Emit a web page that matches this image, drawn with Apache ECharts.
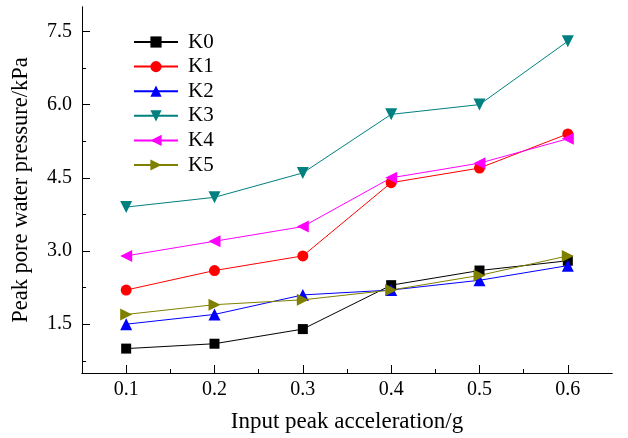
<!DOCTYPE html>
<html><head><meta charset="utf-8">
<script src="https://cdn.jsdelivr.net/npm/echarts@6/dist/echarts.min.js"></script>
<style>html,body{margin:0;padding:0;background:#fff}#c{width:628px;height:438px}</style>
</head><body><div id="c"></div>
<script>
const xValues = [0.1, 0.2, 0.3, 0.4, 0.5, 0.6];
const seriesNames = ['K0', 'K1', 'K2', 'K3', 'K4', 'K5'];
const K0 = [1.0, 1.1, 1.4, 2.3, 2.6, 2.8];
const K1 = [2.2, 2.6, 2.9, 4.4, 4.7, 5.4];
const K2 = [1.5, 1.7, 2.1, 2.2, 2.4, 2.7];
const K3 = [3.9, 4.1, 4.6, 5.8, 6.0, 7.3];
const K4 = [2.9, 3.2, 3.5, 4.5, 4.8, 5.3];
const K5 = [1.7, 1.9, 2.0, 2.2, 2.5, 2.9];
const yTickLabels = [1.5, 3.0, 4.5, 6.0, 7.5];
const yMinorTicks = [0.75, 2.25, 3.75, 5.25, 6.75];
const xTickLabels = [0.1, 0.2, 0.3, 0.4, 0.5, 0.6];
const xMinorTicks = [0.15, 0.25, 0.35, 0.45, 0.55];

const allData = [K0, K1, K2, K3, K4, K5];
const colors = ['#000000', '#ff0000', '#0000ff', '#008080', '#ff00ff', '#808000'];
const symbols = ['rect', 'circle', 'triangle', 'triangle', 'triangle', 'triangle'];
const rotates = [0, 0, 0, 180, 90, -90];
const sizes = [10, 11, 12, 12, 12, 12];
const FONT = '"Liberation Serif", "Times New Roman", serif';

const chart = echarts.init(document.getElementById('c'));
const axisLineStyle = {color: '#000', width: 1};
const xBase = {type: 'value', min: 0.05, max: 0.65, splitLine: {show: false},
  axisLine: {show: true, lineStyle: axisLineStyle}};
const yBase = {type: 'value', min: 0.5, max: 8.0, splitLine: {show: false},
  axisLine: {show: true, lineStyle: axisLineStyle}};
chart.setOption({
  animation: false,
  backgroundColor: '#fff',
  textStyle: {fontFamily: FONT},
  grid: {left: 82, right: 16, top: 7, bottom: 63},
  legend: {
    orient: 'vertical', left: 128, top: 26.5,
    itemWidth: 44, itemHeight: 14, itemGap: 3.6,
    textStyle: {fontFamily: FONT, fontSize: 21, lineHeight: 21, color: '#000', padding: [0, 0, 0, 5]},
    data: seriesNames
  },
  xAxis: [
    Object.assign({}, xBase, {
      name: 'Input peak acceleration/g', nameLocation: 'middle', nameGap: 37,
      nameTextStyle: {fontFamily: FONT, fontSize: 23, color: '#000'},
      axisTick: {show: true, inside: true, length: 8, lineStyle: axisLineStyle, customValues: xTickLabels},
      axisLabel: {show: true, fontFamily: FONT, fontSize: 20, color: '#000', margin: 7,
        customValues: xTickLabels, formatter: v => v.toFixed(1)}
    }),
    Object.assign({}, xBase, {
      position: 'bottom',
      axisTick: {show: true, inside: true, length: 4, lineStyle: axisLineStyle, customValues: xMinorTicks},
      axisLabel: {show: false}
    })
  ],
  yAxis: [
    Object.assign({}, yBase, {
      name: 'Peak pore water pressure/kPa', nameLocation: 'middle', nameGap: 49,
      nameTextStyle: {fontFamily: FONT, fontSize: 22.5, color: '#000'},
      axisTick: {show: true, inside: true, length: 8, lineStyle: axisLineStyle, customValues: yTickLabels},
      axisLabel: {show: true, fontFamily: FONT, fontSize: 20, color: '#000', margin: 10,
        customValues: yTickLabels, formatter: v => v.toFixed(1)}
    }),
    Object.assign({}, yBase, {
      position: 'left',
      axisTick: {show: true, inside: true, length: 4, lineStyle: axisLineStyle, customValues: yMinorTicks},
      axisLabel: {show: false}
    })
  ],
  series: seriesNames.map((n, i) => ({
    name: n, type: 'line', xAxisIndex: 0, yAxisIndex: 0,
    data: xValues.map((x, j) => [x, allData[i][j]]),
    symbol: symbols[i], symbolSize: sizes[i], symbolRotate: rotates[i],
    showAllSymbol: true,
    itemStyle: {color: colors[i]},
    lineStyle: {color: colors[i], width: 1}
  }))
});
</script></body></html>
